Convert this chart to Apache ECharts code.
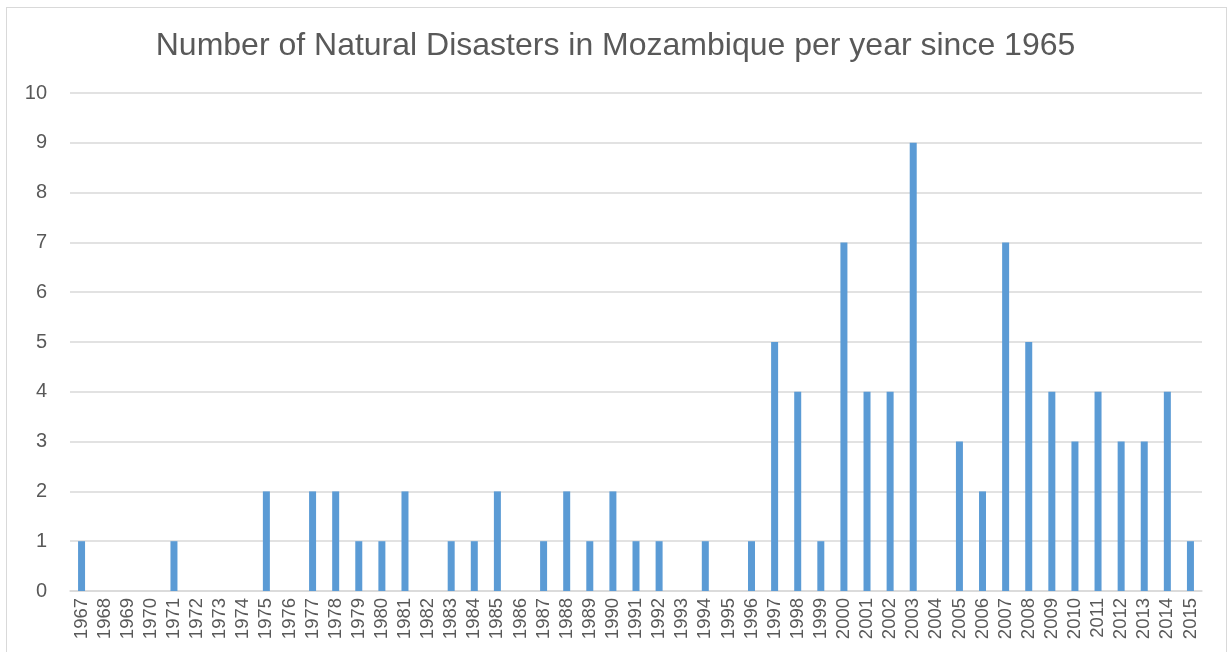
<!DOCTYPE html>
<html>
<head>
<meta charset="utf-8">
<script src="https://cdn.jsdelivr.net/npm/echarts@6/dist/echarts.min.js"></script>
<style>
  html, body { margin: 0; padding: 0; background: #fff; }
  #frame {
    position: absolute; left: 6px; top: 7px; width: 1221px; height: 660px;
    border: 1.5px solid #d9d9d9; box-sizing: border-box;
  }
  #chart { position: absolute; left: 0; top: 0; width: 1231px; height: 652px; }
</style>
</head>
<body>
<div id="frame"></div>
<div id="chart"></div>
<script>
const years = [
  '1967','1968','1969','1970','1971','1972','1973','1974','1975','1976',
  '1977','1978','1979','1980','1981','1982','1983','1984','1985','1986',
  '1987','1988','1989','1990','1991','1992','1993','1994','1995','1996',
  '1997','1998','1999','2000','2001','2002','2003','2004','2005','2006',
  '2007','2008','2009','2010','2011','2012','2013','2014','2015'
];
const disasters = [
  1,0,0,0,1,0,0,0,2,0,
  2,2,1,1,2,0,1,1,2,0,
  1,2,1,2,1,1,0,1,0,1,
  5,4,1,7,4,4,9,0,3,2,
  7,5,4,3,4,3,3,4,1
];
const yTicks = { min: 0, max: 10, interval: 1 };

const chart = echarts.init(document.getElementById('chart'), null, { renderer: 'canvas' });
chart.setOption({
  animation: false,
  title: {
    text: 'Number of Natural Disasters in Mozambique per year since 1965',
    left: 'center', top: 25,
    textStyle: { fontFamily: 'Liberation Sans, Arial, sans-serif', fontSize: 32, fontWeight: 'normal', color: '#595959' }
  },
  grid: { left: 70, right: 29, top: 93, bottom: 61 },
  xAxis: {
    type: 'category',
    data: years,
    axisLine: { lineStyle: { color: '#d9d9d9', width: 1.5 } },
    axisTick: { show: false },
    axisLabel: {
      rotate: 90, interval: 0, margin: 7,
      fontFamily: 'Liberation Sans, Arial, sans-serif', fontSize: 18.5, color: '#595959'
    }
  },
  yAxis: {
    type: 'value',
    min: yTicks.min, max: yTicks.max, interval: yTicks.interval,
    axisLine: { show: false },
    axisTick: { show: false },
    splitLine: { lineStyle: { color: '#d9d9d9', width: 1.5 } },
    axisLabel: {
      margin: 23,
      fontFamily: 'Liberation Sans, Arial, sans-serif', fontSize: 20, color: '#595959'
    }
  },
  series: [{
    type: 'bar',
    data: disasters,
    barWidth: 7,
    itemStyle: { color: '#5b9bd5' }
  }]
});
</script>
</body>
</html>
